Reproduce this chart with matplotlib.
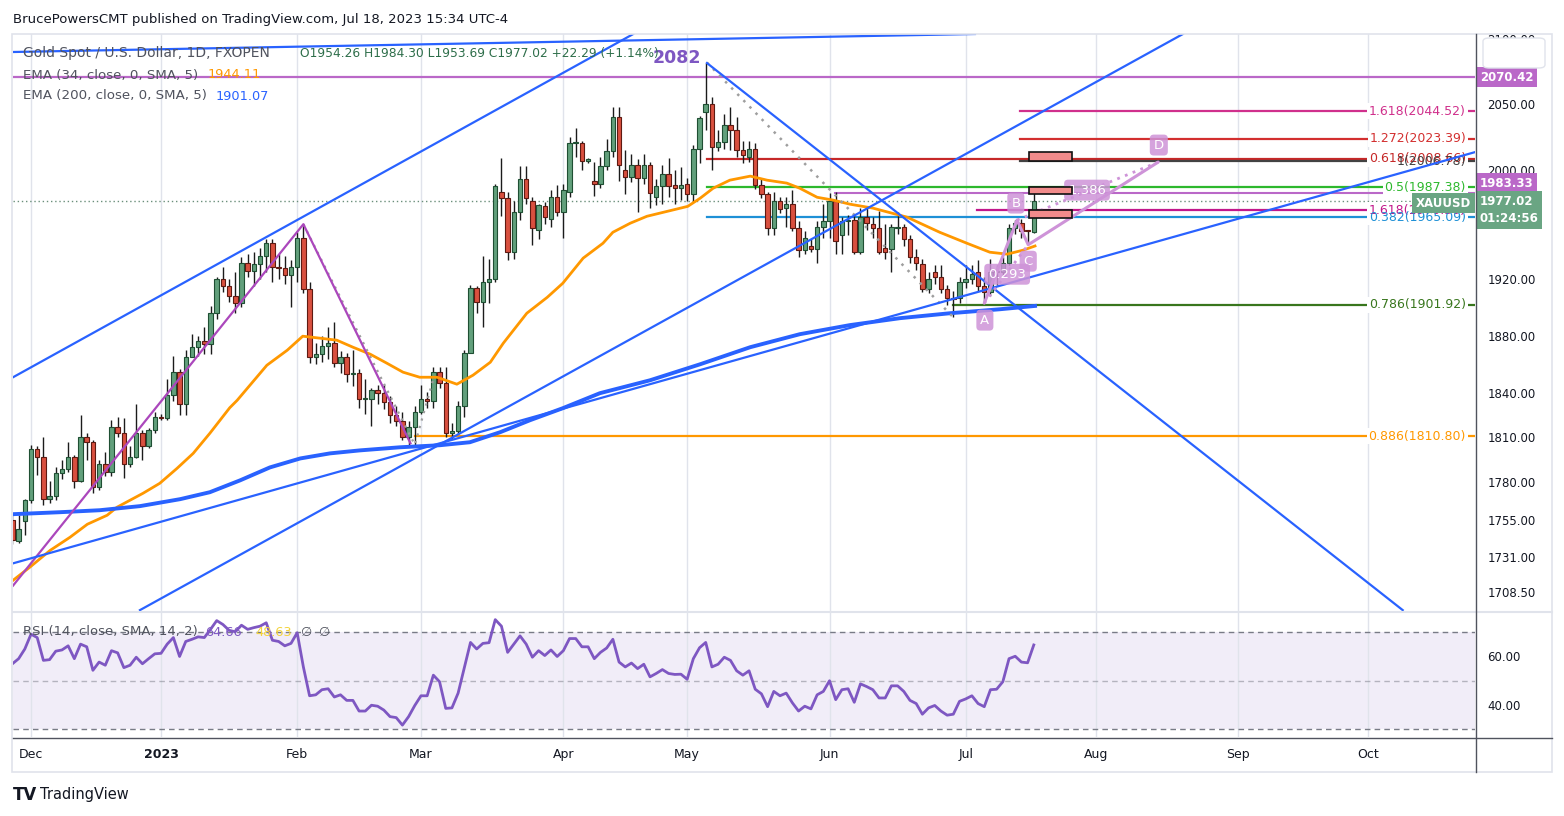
import numpy as np
import matplotlib
matplotlib.use("Agg")
import matplotlib.pyplot as plt
import matplotlib.transforms as mtransforms
from matplotlib.patches import Rectangle, FancyBboxPatch
from matplotlib.lines import Line2D
from matplotlib.ticker import NullLocator, NullFormatter

plt.rcParams['font.family'] = ['DejaVu Sans']

W, H = 1564, 816

# ** Daily candles, bar index 0 = 1 Dec 2022 (trading days only) **
first_bar = -3
opens = [1755, 1741, 1754, 1768, 1802, 1797, 1769, 1771, 1786, 1789,
         1797, 1781, 1810, 1807, 1777, 1792, 1787, 1817, 1813, 1792,
         1797, 1813, 1804, 1815, 1824, 1823, 1839, 1855, 1833, 1865,
         1872, 1876, 1874, 1896, 1920, 1915, 1908, 1903, 1932, 1926,
         1931, 1937, 1946, 1929, 1928, 1923, 1929, 1950, 1913, 1865,
         1867, 1873, 1875, 1861, 1865, 1853, 1854, 1836, 1836, 1842,
         1840, 1834, 1825, 1821, 1810, 1817, 1827, 1836, 1835, 1855,
         1847, 1813, 1814, 1831, 1868, 1914, 1904, 1918, 1920, 1984,
         1979, 1940, 1969, 1993, 1977, 1956, 1973, 1964, 1980, 1969,
         1984, 2020, 2020, 2007, 1992, 1990, 2003, 2014, 2040, 2000,
         1995, 2004, 1994, 2004, 1980, 1988, 1997, 1989, 1987, 1990,
         1982, 2016, 2044, 2050, 2017, 2021, 2034, 2030, 2015, 2010,
         2016, 1989, 1982, 1957, 1977, 1972, 1975, 1957, 1941, 1944,
         1942, 1958, 1962, 1977, 1952, 1962, 1963, 1940, 1965, 1960,
         1957, 1943, 1942, 1957, 1958, 1949, 1936, 1931, 1913, 1925,
         1922, 1913, 1907, 1907, 1918, 1920, 1925, 1915, 1911, 1925,
         1925, 1932, 1957, 1961, 1955.2, 1954.26]
highs = [1758, 1758, 1769, 1805, 1804, 1810, 1781, 1790, 1795, 1807,
         1798, 1825, 1813, 1808, 1795, 1800, 1822, 1824, 1823, 1804,
         1833, 1815, 1816, 1827, 1826, 1850, 1866, 1857, 1870, 1881,
         1880, 1886, 1901, 1922, 1929, 1920, 1925, 1936, 1938, 1940,
         1943, 1949, 1949, 1938, 1937, 1934, 1954, 1960, 1918, 1875,
         1880, 1886, 1890, 1869, 1868, 1870, 1857, 1850, 1844, 1846,
         1846, 1838, 1831, 1827, 1821, 1831, 1846, 1841, 1858, 1858,
         1858, 1820, 1835, 1870, 1916, 1915, 1937, 1935, 1990, 2009,
         1984, 1977, 2003, 2003, 1980, 1975, 1976, 1985, 1989, 1990,
         2025, 2032, 2022, 2009, 2006, 2010, 2023, 2048, 2048, 2015,
         2012, 2008, 2012, 2006, 1993, 2004, 2009, 2000, 2002, 1994,
         2019, 2041, 2082, 2055, 2030, 2042, 2048, 2040, 2022, 2022,
         2020, 1993, 1984, 1984, 1980, 1980, 1985, 1962, 1955, 1949,
         1962, 1975, 1983, 1984, 1965, 1967, 1967, 1972, 1972, 1965,
         1970, 1960, 1960, 1969, 1960, 1952, 1942, 1935, 1925, 1930,
         1930, 1916, 1912, 1922, 1930, 1930, 1934, 1922, 1935, 1930,
         1936, 1960, 1963, 1964, 1956, 1984.30]
lows = [1739, 1740, 1745, 1766, 1785, 1765, 1766, 1768, 1782, 1787,
        1776, 1780, 1795, 1773, 1775, 1784, 1784, 1810, 1783, 1790,
        1796, 1795, 1803, 1813, 1822, 1822, 1835, 1825, 1825, 1865,
        1866, 1867, 1867, 1892, 1911, 1904, 1896, 1900, 1922, 1915,
        1920, 1925, 1918, 1920, 1917, 1900, 1918, 1910, 1861, 1860,
        1862, 1864, 1858, 1854, 1848, 1845, 1830, 1826, 1818, 1833,
        1829, 1820, 1818, 1808, 1805, 1804, 1826, 1830, 1830, 1844,
        1810, 1809, 1812, 1824, 1868, 1896, 1886, 1903, 1918, 1966,
        1934, 1935, 1963, 1975, 1945, 1949, 1960, 1958, 1966, 1950,
        1980, 2010, 2000, 2005, 1981, 1987, 2000, 2010, 1992, 1982,
        1991, 1969, 1990, 1972, 1974, 1975, 1980, 1975, 1978, 1977,
        1976, 2005, 2030, 2000, 2014, 2016, 2015, 2010, 2005, 2006,
        1986, 1979, 1952, 1952, 1968, 1958, 1955, 1936, 1938, 1940,
        1932, 1950, 1950, 1938, 1938, 1952, 1938, 1938, 1956, 1950,
        1938, 1935, 1925, 1953, 1944, 1932, 1927, 1911, 1910, 1917,
        1910, 1902, 1893, 1903, 1914, 1917, 1912, 1903, 1908, 1916,
        1923, 1930, 1953, 1950, 1946, 1953.69]
closes = [1742, 1749, 1768, 1802, 1797, 1769, 1771, 1786, 1789, 1797,
          1781, 1810, 1807, 1777, 1792, 1787, 1817, 1813, 1792, 1797,
          1813, 1804, 1815, 1824, 1823, 1839, 1855, 1833, 1865, 1872,
          1876, 1874, 1896, 1920, 1915, 1908, 1903, 1932, 1926, 1931,
          1937, 1946, 1929, 1928, 1923, 1929, 1950, 1913, 1865, 1867,
          1873, 1875, 1861, 1865, 1853, 1854, 1836, 1837, 1842, 1840,
          1834, 1825, 1821, 1810, 1817, 1827, 1836, 1835, 1855, 1847,
          1813, 1814, 1831, 1868, 1914, 1904, 1918, 1920, 1988, 1979,
          1940, 1969, 1993, 1979, 1957, 1974, 1965, 1980, 1969, 1985,
          2020, 2021, 2007, 2008, 1990, 2003, 2014, 2040, 2004, 1995,
          2004, 1994, 2004, 1983, 1988, 1997, 1988, 1987, 1989, 1982,
          2016, 2039, 2050, 2017, 2021, 2034, 2030, 2015, 2011, 2016,
          1989, 1982, 1957, 1977, 1971, 1975, 1957, 1941, 1950, 1942,
          1958, 1962, 1977, 1948, 1962, 1963, 1940, 1965, 1961, 1957,
          1940, 1940, 1958, 1957.5, 1949, 1936, 1932, 1913, 1920, 1922,
          1913, 1907, 1906, 1918, 1920, 1924, 1915, 1911, 1925, 1925.5,
          1932, 1957, 1961, 1955, 1954.9, 1977.02]

# ** RSI (14) one value per bar **
rsi = [56.9, 59.0, 63.0, 69.1, 67.7, 58.3, 58.6, 62.1, 62.6, 64.3, 59.0, 65.0, 63.9,
       54.2, 57.6, 56.3, 62.3, 61.4, 55.3, 56.3, 59.6, 56.9, 59.0,
       61.0, 61.2, 65.0, 67.7, 59.9, 66.1, 67.0, 68.0, 67.7, 71.1,
       74.7, 73.1, 70.7, 70.1, 72.8, 71.1, 71.8, 72.4, 73.8, 66.6,
       66.1, 64.3, 65.3, 69.7, 55.6, 43.7, 44.1, 46.2, 46.6, 43.2,
       44.1, 41.8, 41.8, 37.4, 37.4, 39.8, 39.4, 37.8, 35.1, 34.7,
       31.6, 35.1, 39.7, 43.7, 43.7, 52.2, 49.5, 38.5, 38.7, 44.8,
       55.3, 65.7, 63.0, 65.3, 65.6, 75.1, 72.4, 61.6, 65.0, 68.4,
       65.0, 59.6, 62.3, 60.3, 62.6, 59.9, 62.3, 67.3, 67.3, 63.9,
       63.9, 59.0, 61.6, 63.4, 67.0, 57.6, 55.6, 57.2, 54.9, 56.7,
       51.5, 52.9, 54.5, 52.9, 52.5, 52.6, 50.5, 59.0, 63.5,
       65.7, 55.6, 56.7, 59.6, 58.3, 54.0, 52.2, 54.0, 46.4, 44.5,
       39.2, 45.5, 43.7, 44.8, 40.8, 37.4, 39.4, 38.3, 44.1, 45.5,
       49.9, 42.1, 46.2, 46.6, 41.0, 48.6, 47.5, 46.2, 42.8, 42.8,
       47.8, 47.8, 45.5, 41.8, 40.5, 36.1, 38.7, 39.7, 37.4, 35.7,
       36.1, 41.4, 42.4, 43.7, 40.5, 39.2, 46.2, 46.4, 49.5, 59.0,
       60.0, 57.6, 57.3, 64.66]

# ** Moving averages, read at sample bars **
ema34_x = [-2.9, -0.2, 3.1, 6.3, 9.1, 12.3, 13.9, 18.1, 20.8, 23.6, 26.2, 28.9,
           32.1, 33.3, 38.1, 41.4, 43.9, 46.7, 49.4, 52.0, 54.8, 57.5, 60.1,
           62.8, 65.6, 68.8, 71.4, 74.2, 76.3, 80.1, 83.4, 85.9, 89.2, 92.4,
           94.0, 96.8, 99.5, 106.1, 108.1, 110.2, 112.9, 116.2, 118.9, 122.1,
           124.2, 127.0, 129.6, 132.3, 136.0, 141.5, 146.8, 151.2, 154.9,
           157.7, 160.3, 162.2]
ema34_y = [1715.9, 1724.3, 1735.2, 1743.7, 1752.2, 1758.1, 1763.4, 1772.6, 1779.2,
           1789.2, 1799.2, 1812.8, 1830.1, 1835.2, 1859.4, 1869.9, 1879.7, 1878.3,
           1876.9, 1872.0, 1867.1, 1860.8, 1854.6, 1851.1, 1851.1, 1846.3, 1852.5,
           1861.5, 1874.8, 1895.9, 1907.2, 1917.2, 1935.3, 1946.1, 1954.1, 1960.7,
           1965.8, 1973.1, 1979.1, 1986.5, 1992.5, 1995.5, 1992.5, 1990.3, 1986.5,
           1979.8, 1977.7, 1974.7, 1971.8, 1965.2, 1954.1, 1946.1, 1939.6, 1938.2,
           1941.1, 1944.11]
ema200_x = [-2.9, 4.7, 11.1, 17.6, 24.1, 28.9, 33.8, 38.6, 43.5, 48.3, 53.1,
            59.6, 66.1, 70.9, 75.8, 80.6, 85.9, 91.9, 100.0, 108.1, 116.2,
            124.2, 132.3, 140.4, 148.5, 156.5, 162.2]
ema200_y = [1758.8, 1760.1, 1761.4, 1764.1, 1768.7, 1773.3, 1781.2, 1789.8, 1795.8,
            1799.2, 1801.2, 1803.3, 1804.7, 1806.7, 1813.5, 1821.6, 1829.8, 1840.1,
            1849.0, 1860.1, 1872.0, 1881.1, 1887.5, 1892.4, 1895.9, 1898.7, 1901.07]

# ** Drawings: trend lines (bar index, price) **
top_line_x, top_line_y = [-2.9, 152.5], [2090.2, 2104.3]
chan_up_x, chan_up_y = [-2.9, 97.3], [1851.1, 2104.3]
chan_low_x, chan_low_y = [17.6, 186.1], [1696.9, 2104.3]
base_line_x, base_line_y = [-2.9, 233.3], [1726.8, 2013.5]
fall_line_x, fall_line_y = [109.2, 221.6], [2081.6, 1696.9]
zigzag_x, zigzag_y = [-2.9, 44, 61.3], [1712.5, 1960, 1806]
dots_feb_x, dots_feb_y = [44, 62, 65], [1960, 1805, 1850]
dots_may_x, dots_may_y = [109.2, 149], [2082, 1893]
abcd_x = [154, 159.3, 161.1, 182.1]
abcd_y = [1903, 1963, 1945, 2006]

# ** Fibonacci levels **
fib_levels = ['1.618', '1.272', '0.618', '1', '0.5', '1.618', '0.382', '0.786', '0.886']
fib_prices = [2044.52, 2023.39, 2008.66, 2006.78, 1987.38, 1970.30, 1965.09, 1901.92, 1810.80]
fib_start = [159.8, 159.8, 109.2, 159.8, 109.2, 152.8, 109.2, 149.0, 62.0]
fib_colors = ['#d0308c', '#d32f2f', '#c62828', '#424242', '#2db82d',
              '#c2188b', '#1e90d6', '#38761d', '#ff9800']

box_lo = [2006.8, 1982.3, 1964.4]
box_hi = [2013.6, 1987.4, 1970.3]

month_idx = [0, 21, 43, 63, 86, 106, 129, 151, 172, 195, 216]
month_lbl = ['Dec', '2023', 'Feb', 'Mar', 'Apr', 'May', 'Jun', 'Jul', 'Aug', 'Sep', 'Oct']
price_ticks = [1708.5, 1731, 1755, 1780, 1810, 1840, 1880, 1920, 1960, 2000, 2050, 2100]

x = np.arange(first_bar, first_bar + len(closes))
o, h, l, c = (np.array(v, dtype=float) for v in (opens, highs, lows, closes))
up = c >= o

fig = plt.figure(figsize=(W / 100, H / 100), dpi=100)
ax = fig.add_axes([13 / W, 1 - 612 / H, 1462 / W, 578 / H])
ax2 = fig.add_axes([13 / W, 1 - 737 / H, 1462 / W, 125 / H])

ax.set_yscale('log')
ax.set_xlim(-2.91, 233.28)
ax.set_ylim(1695.7, 2104.3)
ax2.set_xlim(-2.91, 233.28)
ax2.set_ylim(26.7, 78.25)

for a in (ax, ax2):
    a.patch.set_alpha(0)
    for s in a.spines.values():
        s.set_visible(False)
    for m in month_idx:
        a.axvline(m, color='#e0e3eb', lw=1, zorder=0.5)

# price axis
ax.yaxis.tick_right()
ax.set_yticks(price_ticks)
ax.set_yticklabels([f'{t:.2f}' for t in price_ticks])
ax.yaxis.set_minor_locator(NullLocator())
ax.yaxis.set_minor_formatter(NullFormatter())
ax.tick_params(axis='y', length=0, pad=9, labelsize=8.5, labelcolor='#131722')
ax.tick_params(axis='x', bottom=False, labelbottom=False)

# candles
ax.vlines(x, l, h, color='#1b1b1b', lw=1, zorder=2.9)
ax.bar(x, np.maximum(np.abs(c - o), 0.8), bottom=np.minimum(o, c), width=0.72,
       color=np.where(up, '#62a07c', '#d9503f'),
       edgecolor=np.where(up, '#1f4f33', '#5e1a12'), linewidth=0.8, zorder=3)

# moving averages
ax.plot(ema34_x, ema34_y, color='#ff9800', lw=2, zorder=4)
ax.plot(ema200_x, ema200_y, color='#2962ff', lw=2.8, zorder=4, solid_joinstyle='round')

# trend lines
for lx, ly in [(top_line_x, top_line_y), (chan_up_x, chan_up_y), (chan_low_x, chan_low_y),
               (base_line_x, base_line_y), (fall_line_x, fall_line_y)]:
    ax.plot(lx, ly, color='#2962ff', lw=1.6, zorder=4.5)
ax.plot(zigzag_x, zigzag_y, color='#ab47bc', lw=1.6, zorder=4.4)
ax.plot(dots_feb_x, dots_feb_y, color='#9e9e9e', lw=1.6, ls=(0, (1, 2.5)), zorder=4.3)
ax.plot(dots_may_x, dots_may_y, color='#9e9e9e', lw=1.8, ls=(0, (1, 2.5)), zorder=4.3)

# horizontal levels
ax.axhline(2070.42, color='#ba68c8', lw=1.6, zorder=1.5)
ax.plot([129.9, 233.3], [1983.33, 1983.33], color='#ba68c8', lw=1.5, zorder=1.5)
ax.axhline(closes[-1], color='#6b8f7b', lw=1, ls=(0, (1, 2)), zorder=1.6)

blend = mtransforms.blended_transform_factory(ax.transAxes, ax.transData)
for lvl, p, xs, col in zip(fib_levels, fib_prices, fib_start, fib_colors):
    ax.plot([xs, 233.3], [p, p], color=col, lw=1.6, zorder=1.7)
    lab = f'{lvl}({p:.2f})'
    ax.text(0.9938, p, lab, transform=blend, ha='right', va='center', fontsize=9,
            color='none', bbox=dict(fc='white', ec='none', pad=1.2), zorder=1.8)
    ax.text(0.9938, p, lab, transform=blend, ha='right', va='center', fontsize=9,
            color=col, zorder=1.9)

# ABCD pattern
pc = '#ce93d8'
ax.plot(abcd_x, abcd_y, color=pc, lw=2.2, zorder=5.2, solid_capstyle='round')
ax.plot([abcd_x[0], abcd_x[2]], [abcd_y[0], abcd_y[2]], color=pc, lw=2, ls=(0, (1, 2)), zorder=5.2)
ax.plot([abcd_x[1], abcd_x[3]], [abcd_y[1], abcd_y[3]], color=pc, lw=2, ls=(0, (1, 2)), zorder=5.2)
for t, xi, yi in [('A', 154.1, 1891.0), ('B', 159.1, 1975.5), ('C', 161.1, 1933.1),
                  ('D', 182.2, 2018.8), ('0.293', 157.7, 1923.7), ('1.386', 170.6, 1985.1)]:
    ax.text(xi, yi, t, ha='center', va='center', fontsize=9.5, color='white', zorder=6,
            bbox=dict(boxstyle='round,pad=0.3', fc=pc, ec='none', alpha=0.85))

# pink boxes (drawn over the pattern labels)
for lo, hi in zip(box_lo, box_hi):
    ax.add_patch(Rectangle((161.3, lo), 6.9, hi - lo, fc='#f28b8b', ec='#111111',
                           lw=1.2, zorder=6.5))

ax.text(104.4, 2085.5, '2082', ha='center', va='center', fontsize=12.5,
        fontweight='bold', color='#7e57c2', zorder=6)

# price tags on the right scale
def tag(txt, price, fc, dy=0, side='right'):
    ha, dx = ('left', 5) if side == 'right' else ('right', -4)
    ax.annotate(txt, xy=(1.0, price), xycoords=blend, xytext=(dx, dy),
                textcoords='offset pixels', ha=ha, va='center', fontsize=8.5,
                fontweight='bold', color='white', linespacing=1.45, zorder=10,
                annotation_clip=False,
                bbox=dict(boxstyle='square,pad=0.3', fc=fc, ec='none'))

tag('2070.42', 2070.42, '#ba68c8')
tag('1983.33', 1983.33, '#ba68c8', dy=9)
tag('1977.02\n01:24:56', closes[-1], '#6aa583', dy=-9)
tag('XAUUSD', closes[-1], '#6aa583', dy=-2, side='left')

# RSI pane
ax2.axhspan(30, 70, color='#7e57c2', alpha=0.1, lw=0, zorder=0.4)
ax2.axhline(70, color='#787b86', lw=1, ls=(0, (4, 3)), zorder=1)
ax2.axhline(50, color='#787b86', lw=1, ls=(0, (4, 3)), alpha=0.5, zorder=1)
ax2.axhline(30, color='#787b86', lw=1, ls=(0, (4, 3)), zorder=1)
ax2.plot(x, rsi, color='#7e57c2', lw=2, zorder=3)
ax2.yaxis.tick_right()
ax2.set_yticks([40, 60])
ax2.set_yticklabels(['40.00', '60.00'])
ax2.tick_params(axis='y', length=0, pad=9, labelsize=8.5, labelcolor='#131722')
ax2.set_xticks(month_idx)
ax2.set_xticklabels(month_lbl)
ax2.tick_params(axis='x', length=0, pad=8, labelsize=9, labelcolor='#131722')
ax2.get_xticklabels()[1].set_fontweight('bold')

# frame and separators
fig.add_artist(Rectangle((12 / W, 1 - 772 / H), 1540 / W, 738 / H, transform=fig.transFigure,
                         fill=False, ec='#e0e3eb', lw=1.2))
fig.add_artist(Line2D([13 / W, 1552 / W], [1 - 612 / H] * 2, color='#e0e3eb', lw=1.5))
fig.add_artist(Line2D([13 / W, 1552 / W], [1 - 737.5 / H] * 2, color='#50535e', lw=1))
fig.add_artist(Line2D([1475.5 / W] * 2, [1 - 34 / H, 1 - 772 / H], color='#50535e', lw=1))
fig.add_artist(FancyBboxPatch((1483 / W, 1 - 68 / H), 62 / W, 30 / H, transform=fig.transFigure,
                              boxstyle='round,pad=0,rounding_size=0.004', fc='white',
                              ec='#e0e3eb', lw=1))

def ftext(px, py, s, **kw):
    fig.text(px / W, 1 - py / H, s, va='center', **kw)

ftext(13, 20, 'BrucePowersCMT published on TradingView.com, Jul 18, 2023 15:34 UTC-4',
      fontsize=9.5, color='#131722')
ftext(23, 53, 'Gold Spot / U.S. Dollar, 1D, FXOPEN', fontsize=10, color='#50535e')
ftext(300, 53, 'O1954.26 H1984.30 L1953.69 C1977.02 +22.29 (+1.14%)',
      fontsize=8.8, color='#2e6e4a')
ftext(23, 75, 'EMA (34, close, 0, SMA, 5)', fontsize=9.6, color='#50535e')
ftext(208, 75, '1944.11', fontsize=9.3, color='#ff9800')
ftext(23, 96, 'EMA (200, close, 0, SMA, 5)', fontsize=9.6, color='#50535e')
ftext(216, 96, '1901.07', fontsize=9.3, color='#2962ff')
ftext(23, 632, 'RSI (14, close, SMA, 14, 2)', fontsize=9.5, color='#50535e')
ftext(205, 632, '64.66', fontsize=9.3, color='#7e57c2')
ftext(255, 632, '48.63', fontsize=9.3, color='#f3d33b')
ftext(300, 632, '\u2205', fontsize=9.3, color='#50535e')
ftext(318, 632, '\u2205', fontsize=9.3, color='#50535e')
ftext(13, 795, 'TV', fontsize=12, fontweight='bold', color='#131722')
ftext(40, 795, 'TradingView', fontsize=10.5, color='#131722')

fig.savefig('out.png', dpi=100)
